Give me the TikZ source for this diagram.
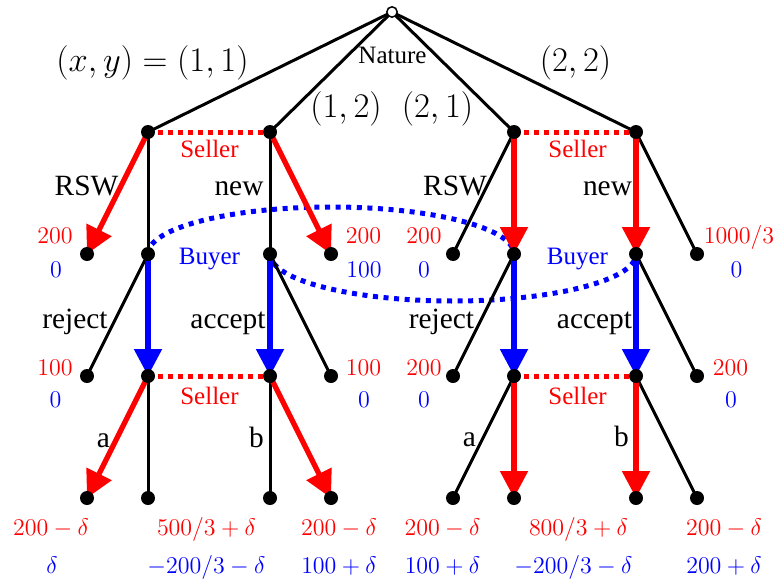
\documentclass[tikz,border=0pt]{standalone}
\usepackage{fontspec}
\setmainfont{Liberation Serif}
\usetikzlibrary{arrows.meta}
\pgfdeclarelayer{bg}
\pgfsetlayers{bg,main}
\begin{document}
\begin{tikzpicture}[x=0.5pt,y=-0.5pt,
 dot/.style={circle,fill=black,inner sep=0pt,minimum size=7pt},
 rootdot/.style={circle,draw=black,fill=white,line width=0.75pt,inner sep=0pt,minimum size=5.2pt},
 edge/.style={line width=1.5pt,black},
 redarr/.style={line width=2.6pt,red,-{Triangle[length=13.5pt,width=13.5pt]}},
 bluearr/.style={line width=2.6pt,blue,-{Triangle[length=13.5pt,width=13.5pt]}},
 redinfo/.style={line width=2.5pt,red,dash pattern=on 2.5pt off 2.5pt},
 blueinfo/.style={line width=2.5pt,blue,dash pattern=on 2.5pt off 2.8pt},
 act/.style={font=\fontsize{14.7}{16}\selectfont,anchor=base,inner sep=0pt},
 plr/.style={font=\fontsize{12.5}{14}\selectfont,anchor=base,inner sep=0pt},
 pay/.style={font=\fontsize{12.35}{14}\selectfont,anchor=base,inner sep=0pt},
 big/.style={font=\fontsize{16.5}{18}\selectfont,anchor=base,inner sep=0pt},
 ]
\useasboundingbox (0,0) rectangle (779,583);
% nodes
\node[rootdot] (R) at (392,12) {};
\node[dot] (A) at (148,132) {};
\node[dot] (B) at (270,132) {};
\node[dot] (C) at (514,132) {};
\node[dot] (D) at (636,132) {};
\node[dot] (a1) at (87,254) {};
\node[dot] (Ab) at (148,254) {};
\node[dot] (Bb) at (270,254) {};
\node[dot] (b2) at (331,254) {};
\node[dot] (c1) at (453,254) {};
\node[dot] (Cb) at (514,254) {};
\node[dot] (Db) at (636,254) {};
\node[dot] (d2) at (697,254) {};
\node[dot] (ab1) at (87,376) {};
\node[dot] (As) at (148,376) {};
\node[dot] (Bs) at (270,376) {};
\node[dot] (bb2) at (331,376) {};
\node[dot] (cb1) at (453,376) {};
\node[dot] (Cs) at (514,376) {};
\node[dot] (Ds) at (636,376) {};
\node[dot] (db2) at (697,376) {};
\node[dot] (e1) at (87,498) {};
\node[dot] (e2) at (148,498) {};
\node[dot] (e3) at (270,498) {};
\node[dot] (e4) at (331,498) {};
\node[dot] (e5) at (453,498) {};
\node[dot] (e6) at (514,498) {};
\node[dot] (e7) at (636,498) {};
\node[dot] (e8) at (697,498) {};
\coordinate (toparc) at (331,207);
\coordinate (botarc) at (453,301);
\begin{pgfonlayer}{bg}
% information sets
\draw[blueinfo] (Ab.center) .. controls +(0,-26) and +(-101,0) .. (toparc)
  .. controls +(101,0) and +(0,-26) .. (Cb.center);
\draw[blueinfo] (Bb.center) .. controls +(0,26) and +(-101,0) .. (botarc)
  .. controls +(101,0) and +(0,26) .. (Db.center);
\draw[redinfo] (A.center) -- (B.center);
\draw[redinfo] (C.center) -- (D.center);
\draw[redinfo] (As.center) -- (Bs.center);
\draw[redinfo] (Cs.center) -- (Ds.center);
% edges
\foreach \n in {A,B,C,D} \draw[edge] (R.center) -- (\n.center);
\draw[edge] (A.center) -- (Ab.center);
\draw[redarr] (A.center) -- (a1.center);
\draw[edge] (B.center) -- (Bb.center);
\draw[redarr] (B.center) -- (b2.center);
\draw[edge] (C.center) -- (c1.center);
\draw[redarr] (C.center) -- (Cb.center);
\draw[edge] (D.center) -- (d2.center);
\draw[redarr] (D.center) -- (Db.center);
\draw[edge] (Ab.center) -- (ab1.center);
\draw[bluearr] (Ab.center) -- (As.center);
\draw[edge] (Bb.center) -- (bb2.center);
\draw[bluearr] (Bb.center) -- (Bs.center);
\draw[edge] (Cb.center) -- (cb1.center);
\draw[bluearr] (Cb.center) -- (Cs.center);
\draw[edge] (Db.center) -- (db2.center);
\draw[bluearr] (Db.center) -- (Ds.center);
\draw[edge] (As.center) -- (e2.center);
\draw[redarr] (As.center) -- (e1.center);
\draw[edge] (Bs.center) -- (e3.center);
\draw[redarr] (Bs.center) -- (e4.center);
\draw[edge] (Cs.center) -- (e5.center);
\draw[redarr] (Cs.center) -- (e6.center);
\draw[edge] (Ds.center) -- (e8.center);
\draw[redarr] (Ds.center) -- (e7.center);
\end{pgfonlayer}
% labels
\node[big] (l1) at (152.5,71) {$(x,y)=(1,1)$};
\node[big] (l2) at (346,117) {$(1,2)$};
\node[big] (l3) at (437.5,117) {$(2,1)$};
\node[big] (l4) at (575.5,71) {$(2,2)$};
\node[plr] (nat) at (392.5,64) {Nature};
\node[plr,red] (s1) at (209.5,157) {Seller};
\node[plr,red] (s2) at (577.5,157) {Seller};
\node[plr,blue] (by1) at (209.5,264) {Buyer};
\node[plr,blue] (by2) at (577.5,264) {Buyer};
\node[plr,red] (s3) at (209.5,404) {Seller};
\node[plr,red] (s4) at (577.5,404) {Seller};
\node[act] (t1) at (86.5,195) {RSW};
\node[act] (t2) at (239,195) {new};
\node[act] (t3) at (455,195) {RSW};
\node[act] (t4) at (607.5,195) {new};
\node[act] (t5) at (75,328) {reject};
\node[act] (t6) at (228,328) {accept};
\node[act] (t7) at (441.5,328) {reject};
\node[act] (t8) at (594.5,328) {accept};
\node[act] (t9) at (103.5,447) {a};
\node[act] (t10) at (256.5,447) {b};
\node[act] (t11) at (469.5,446) {a};
\node[act] (t12) at (621.5,446) {b};
% payoffs level 2
\node[pay,red] (p1) at (55,243) {$200$};
\node[pay,blue] (q1) at (56,277) {$0$};
\node[pay,red] (p2) at (363.5,243) {$200$};
\node[pay,blue] (q2) at (364,277) {$100$};
\node[pay,red] (p3) at (424,243) {$200$};
\node[pay,blue] (q3) at (424,277) {$0$};
\node[pay,red] (p4) at (739,243) {$1000/3$};
\node[pay,blue] (q4) at (736.5,277) {$0$};
% payoffs level 3
\node[pay,red] (p5) at (55,375) {$100$};
\node[pay,blue] (q5) at (55.5,407) {$0$};
\node[pay,red] (p6) at (363.5,375) {$100$};
\node[pay,blue] (q6) at (364,407) {$0$};
\node[pay,red] (p7) at (424,375) {$200$};
\node[pay,blue] (q7) at (424,407) {$0$};
\node[pay,red] (p8) at (730.5,375) {$200$};
\node[pay,blue] (q8) at (731,407) {$0$};
% payoffs level 4
\node[pay,red] (p9) at (51,535) {$200-\delta$};
\node[pay,blue] (q9) at (52,573) {$\delta$};
\node[pay,red] (p10) at (206.5,535) {$500/3+\delta$};
\node[pay,blue] (q10) at (206.5,573) {$-200/3-\delta$};
\node[pay,red] (p11) at (339,535) {$200-\delta$};
\node[pay,blue] (q11) at (339,573) {$100+\delta$};
\node[pay,red] (p12) at (442.5,535) {$200-\delta$};
\node[pay,blue] (q12) at (442.5,573) {$100+\delta$};
\node[pay,red] (p13) at (578.5,535) {$800/3+\delta$};
\node[pay,blue] (q13) at (573.5,573) {$-200/3-\delta$};
\node[pay,red] (p14) at (724,535) {$200-\delta$};
\node[pay,blue] (q14) at (724,573) {$200+\delta$};
\end{tikzpicture}
\end{document}
